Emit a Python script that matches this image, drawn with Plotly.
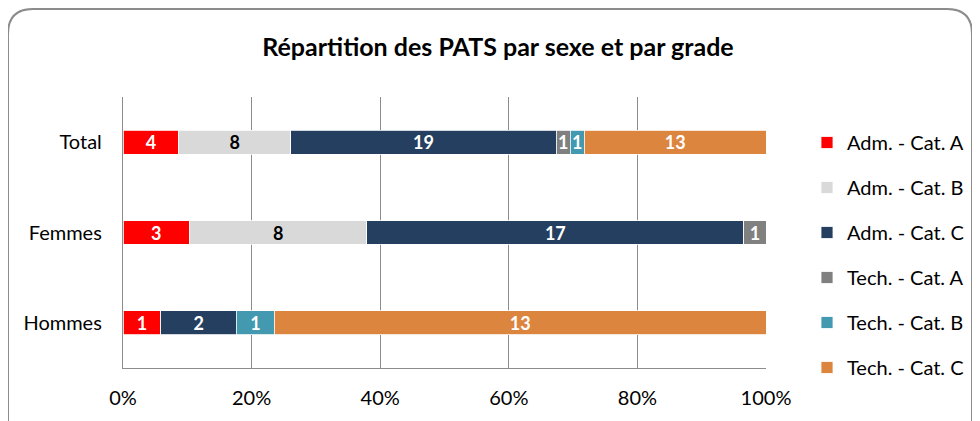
import plotly.graph_objects as go

categories = ["Total", "Femmes", "Hommes"]
series_names = ["Adm. - Cat. A", "Adm. - Cat. B", "Adm. - Cat. C",
                "Tech. - Cat. A", "Tech. - Cat. B", "Tech. - Cat. C"]
adm_a = [4, 3, 1]
adm_b = [8, 8, None]
adm_c = [19, 17, 2]
tech_a = [1, 1, None]
tech_b = [1, None, 1]
tech_c = [13, None, 13]
x_tick_vals = [0, 20, 40, 60, 80, 100]
x_tick_text = ["0%", "20%", "40%", "60%", "80%", "100%"]

series_values = [adm_a, adm_b, adm_c, tech_a, tech_b, tech_c]
colors = ["#FF0000", "#D9D9D9", "#253F60", "#808080", "#4299B0", "#DC853F"]
text_colors = ["white", "black", "white", "white", "white", "white"]

FONT = "Lato"
OFF = 8  # page body margin
W, H = 980, 421
L, T = 123 - OFF, 97 - OFF
PW, PH = 643, 271
R, B = W - L - PW, H - T - PH

def px_x(px):
    return (px - OFF - L) / PW

def px_y(py):
    return (T + PH - (py - OFF)) / PH

fig = go.Figure()
for i, (name, vals) in enumerate(zip(series_names, series_values)):
    fig.add_trace(go.Bar(
        y=categories, x=vals, name=name, orientation="h",
        marker=dict(color=colors[i], line=dict(color="white", width=0.8)),
        text=[("" if v is None else str(v)) for v in vals],
        textposition="inside", insidetextanchor="middle", textangle=0,
        textfont=dict(family=FONT, size=18, color=text_colors[i], weight="bold"),
        constraintext="none", legendgroup=name, hoverinfo="skip",
    ))

# rounded border
x0, x1 = 8, 972
y0, y1 = 9, 470
r = 25
path = (f"M {px_x(x0)},{px_y(y0 + r)} "
        f"Q {px_x(x0)},{px_y(y0)} {px_x(x0 + r)},{px_y(y0)} "
        f"L {px_x(x1 - r)},{px_y(y0)} "
        f"Q {px_x(x1)},{px_y(y0)} {px_x(x1)},{px_y(y0 + r)} "
        f"L {px_x(x1)},{px_y(y1)} L {px_x(x0)},{px_y(y1)} Z")

fig.update_layout(
    width=W, height=H,
    margin=dict(l=L, r=R, t=T, b=B),
    paper_bgcolor="white", plot_bgcolor="white",
    barmode="stack", barnorm="percent", bargap=0.735,
    font=dict(family=FONT, size=20, color="#000000"),
    uniformtext=dict(minsize=18, mode="show"),
    title=dict(text="<b>Répartition des PATS par sexe et par grade</b>",
               x=(498 - OFF) / W, xref="container", xanchor="center",
               y=1 - (47 - OFF) / H, yref="container", yanchor="middle",
               font=dict(family=FONT, size=25, color="#000000")),
    xaxis=dict(range=[0, 100], tickvals=x_tick_vals, ticktext=x_tick_text,
               showgrid=True, gridcolor="#8C8C8C", gridwidth=1.3,
               showline=True, linecolor="#8C8C8C", linewidth=1.3,
               zeroline=False, ticks="", ticklabelstandoff=12,
               tickfont=dict(family=FONT, size=20)),
    yaxis=dict(autorange="reversed", showline=True, linecolor="#8C8C8C",
               linewidth=1.3, ticks="", ticklabelstandoff=16,
               tickfont=dict(family=FONT, size=20)),
    legend=dict(x=px_x(807), xanchor="left", y=px_y(123), yanchor="top",
                traceorder="grouped", tracegroupgap=16,
                font=dict(family=FONT, size=20), itemwidth=30,
                bgcolor="rgba(0,0,0,0)"),
    shapes=[dict(type="path", path=path, xref="paper", yref="paper",
                 line=dict(color="#8C8C8C", width=2), layer="below")],
)

fig.write_html("out.html")
